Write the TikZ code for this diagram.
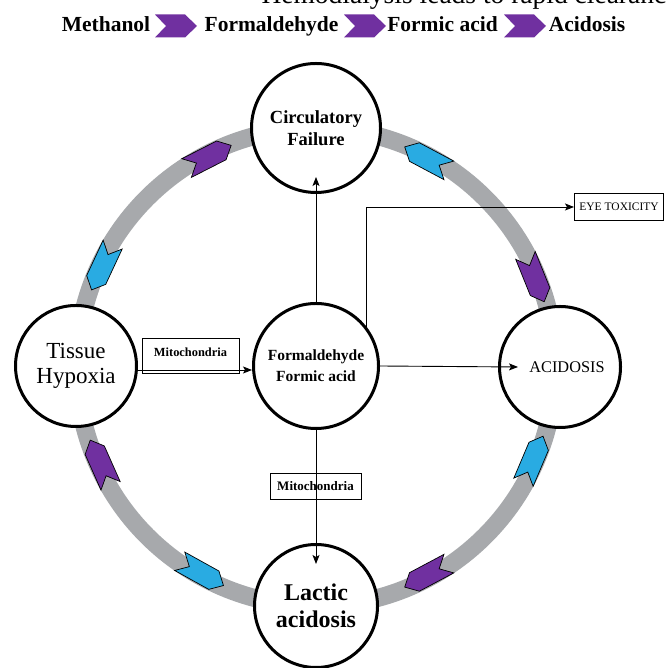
\documentclass[tikz,border=0pt]{standalone}
\usepackage{fontspec}
\setmainfont{Liberation Serif}
\usetikzlibrary{arrows.meta,calc}
\definecolor{ringgray}{RGB}{167,169,172}
\definecolor{ppl}{RGB}{112,48,160}
\definecolor{sky}{RGB}{41,171,226}
\newcommand\ringarrow[3]{%
  \filldraw[fill=#3, draw=black, line width=0.7pt, line join=miter,
    shift={(316,301)}, rotate=#1, shift={(236,0)}, rotate=#2]
    (-25,10.5) -- (14,10.5) -- (25,0) -- (14,-10.5) -- (-25,-10.5) -- (-14,0) -- cycle;}
\newcommand\hdrarrow[2]{%
  \fill[ppl, shift={(#1,#2)}]
    (-21,11.5) -- (9,11.5) -- (21,0) -- (9,-11.5) -- (-21,-11.5) -- (-10,0) -- cycle;}
\begin{document}
\begin{tikzpicture}[x=1pt,y=1pt,
  bigcirc/.style={circle, draw=black, line width=3pt, fill=white, inner sep=0pt, align=center},
  conn/.style={line width=0.9pt, -{Stealth[length=9pt,width=7pt,inset=2pt]}},
  tagbox/.style={draw, line width=0.8pt, inner sep=0pt, fill=white},
  hdr/.style={font=\fontsize{21.5}{25}\selectfont\bfseries, anchor=base},
]
\clip (0,0) rectangle (665,668);
\useasboundingbox (0,0) rectangle (665,668);

% header
\node[anchor=base west, font=\fontsize{27.5}{30}\selectfont] (hemo) at (258,664) {Hemodialysis leads to rapid clearance};
\node[hdr] (meth) at (106,636) {Methanol};
\node[hdr] (form) at (271.5,636) {Formaldehyde};
\node[hdr] (fac) at (442.5,636) {Formic acid};
\node[hdr] (acid) at (587,636) {Acidosis};
\hdrarrow{176}{642}
\hdrarrow{365}{642}
\hdrarrow{525}{642}

% ring
\draw[ringgray, line width=18pt] (316,301) circle (239);
\ringarrow{117}{-90}{ppl}
\ringarrow{62}{90}{sky}
\ringarrow{22}{-90}{ppl}
\ringarrow{-23}{90}{sky}
\ringarrow{155}{90}{sky}
\ringarrow{204}{-90}{ppl}
\ringarrow{241}{90}{sky}
\ringarrow{298}{-90}{ppl}

% circles
\node[bigcirc, minimum size=129pt, font=\fontsize{18.5}{22}\selectfont\bfseries] (top) at (316,540) {Circulatory\\Failure};
\node[bigcirc, minimum size=121pt, font=\fontsize{23}{25}\selectfont] (left) at (76,302) {Tissue\\Hypoxia};
\node[bigcirc, minimum size=121pt, font=\fontsize{16.3}{17}\selectfont] (right) at (560,301) {\hspace{14pt}ACIDOSIS};
\node[bigcirc, minimum size=125pt, font=\fontsize{15.5}{21}\selectfont\bfseries] (center) at (316,302) {Formaldehyde\\Formic acid};
\node[bigcirc, minimum size=123pt, font=\fontsize{24}{27}\selectfont\bfseries] (bottom) at (316,62) {Lactic\\acidosis};

% boxes and connectors
\node[tagbox, minimum width=97pt, text height=15pt, text depth=13pt, inner ysep=3.5pt, font=\fontsize{12.4}{14}\selectfont\bfseries] (mito1) at (190.5,312.5) {Mitochondria};
\draw[conn] ([yshift=-4pt]left.east) -- ([yshift=-4pt]center.west);

\coordinate (topTip) at (316,491);
\draw[conn] (center.north) -- (topTip);

\node[tagbox, minimum width=91pt, minimum height=26pt, font=\fontsize{13}{15}\selectfont\bfseries] (mito2) at (315.5,182) {Mitochondria};
\coordinate (botTip) at (316,104);
\draw[conn] (center.south) -- (botTip);

\coordinate (rightTip) at (518,301);
\draw[conn] (center.east) -- (rightTip);

\node[tagbox, minimum height=27pt, inner xsep=5pt, anchor=west, font=\fontsize{11.5}{13}\selectfont] (eye) at (574,461) {EYE TOXICITY};
\draw[conn] (center.38.8) |- (eye.west);
\end{tikzpicture}
\end{document}
